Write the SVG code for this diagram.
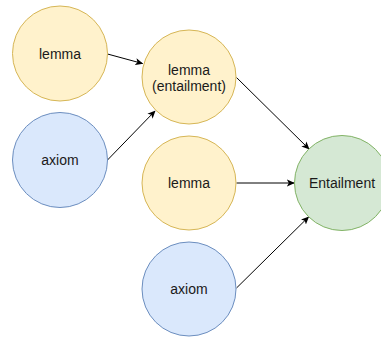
<svg xmlns="http://www.w3.org/2000/svg" width="381" height="337" viewBox="0 0 381 337">
  <style>
    .node { stroke-width: 1; }
    .lemma { fill: #fff2cc; stroke: #d6b656; }
    .axiom { fill: #dae8fc; stroke: #6c8ebf; }
    .goal { fill: #d5e8d4; stroke: #82b366; }
    .label { font-family: "Liberation Sans", Arial, sans-serif; font-size: 14px; fill: #1a1a1a; text-anchor: middle; dominant-baseline: central; }
    .edge { stroke: #000; stroke-width: 1; fill: none; marker-end: url(#arrow); }
  </style>
  <defs>
    <marker id="arrow" viewBox="0 0 10 10" refX="9" refY="5" markerWidth="8" markerHeight="8" markerUnits="userSpaceOnUse" orient="auto">
      <path d="M0,0.5 L10,5 L0,9.5 L2.5,5 Z" fill="#000"/>
    </marker>
  </defs>
  <rect width="381" height="337" fill="#ffffff"/>

  <g id="connectors">
    <line class="edge" x1="107.5" y1="54" x2="142.5" y2="63.5"/>
    <line class="edge" x1="107.5" y1="160" x2="155" y2="111"/>
    <line class="edge" x1="236.5" y1="77.5" x2="309" y2="149"/>
    <line class="edge" x1="236.5" y1="183" x2="294" y2="183"/>
    <line class="edge" x1="236.5" y1="288" x2="308.5" y2="217"/>
  </g>

  <g id="lemma-1">
    <circle class="node lemma" cx="60" cy="53.5" r="47.5"/>
    <text class="label" x="60" y="53.5">lemma</text>
  </g>
  <g id="axiom-1">
    <circle class="node axiom" cx="60" cy="160" r="47.5"/>
    <text class="label" x="60" y="160">axiom</text>
  </g>
  <g id="lemma-entailment">
    <circle class="node lemma" cx="189" cy="77" r="47"/>
    <text class="label" x="189" y="69.5">lemma</text>
    <text class="label" x="189" y="86">(entailment)</text>
  </g>
  <g id="lemma-2">
    <circle class="node lemma" cx="189" cy="183" r="47"/>
    <text class="label" x="189" y="183">lemma</text>
  </g>
  <g id="axiom-2">
    <circle class="node axiom" cx="189" cy="289" r="47"/>
    <text class="label" x="189" y="289">axiom</text>
  </g>
  <g id="entailment">
    <circle class="node goal" cx="342" cy="183" r="47.5"/>
    <text class="label" x="342" y="183">Entailment</text>
  </g>
</svg>
